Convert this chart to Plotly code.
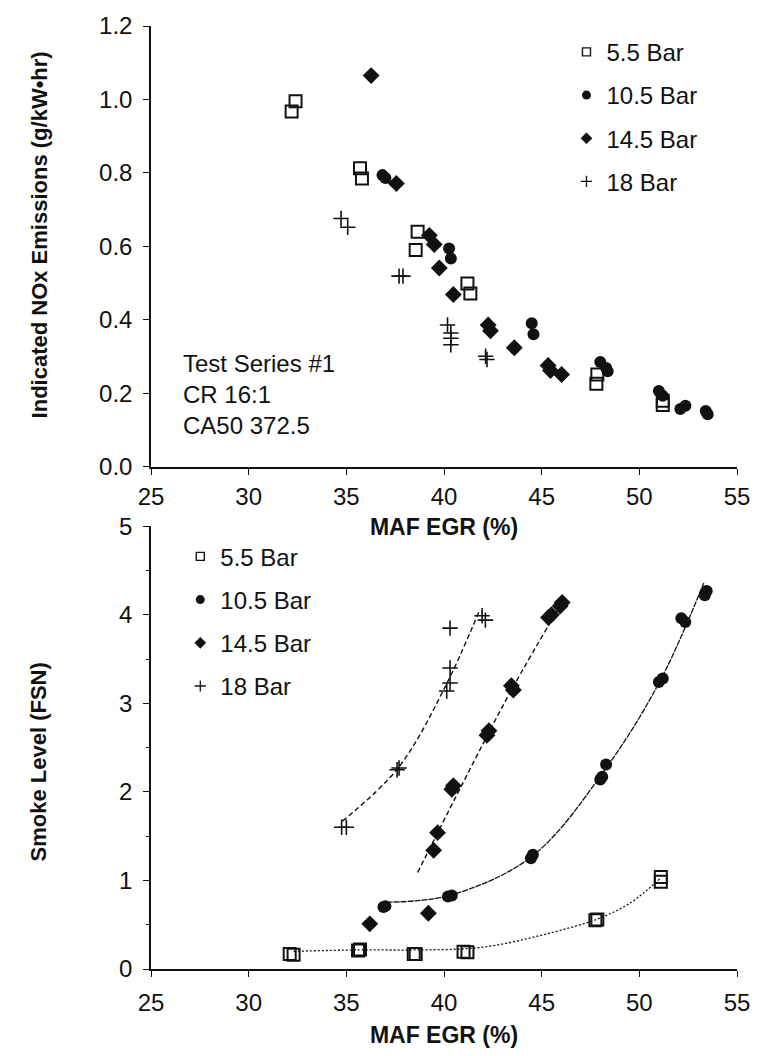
import plotly.graph_objects as go

# ---------------- data ----------------
X_TICKS = [25, 30, 35, 40, 45, 50, 55]
NOX_TICKS = [0.0, 0.2, 0.4, 0.6, 0.8, 1.0, 1.2]
SMOKE_TICKS = [0, 1, 2, 3, 4, 5]
SERIES = ["5.5 Bar", "10.5 Bar", "14.5 Bar", "18 Bar"]

# Top panel: indicated NOx (g/kW-hr) vs MAF EGR (%)
nox_egr_55 = [32.4, 32.2, 35.7, 35.8, 38.65, 38.55, 41.2, 41.35, 47.85, 47.8, 51.2, 51.2]
nox_55 = [0.995, 0.967, 0.813, 0.785, 0.640, 0.590, 0.499, 0.472, 0.251, 0.226, 0.180, 0.168]

nox_egr_105 = [36.85, 37.0, 40.26, 40.35, 44.49, 44.58, 48.0, 48.3, 48.38, 51.0, 51.2, 52.1, 52.36, 53.4, 53.5]
nox_105 = [0.794, 0.786, 0.594, 0.567, 0.391, 0.361, 0.285, 0.269, 0.260, 0.206, 0.193, 0.157, 0.166, 0.152, 0.143]

nox_egr_145 = [36.27, 37.56, 39.25, 39.5, 39.76, 40.48, 42.26, 42.38, 43.6, 45.33, 45.45, 46.02]
nox_145 = [1.065, 0.771, 0.630, 0.605, 0.541, 0.469, 0.386, 0.370, 0.324, 0.276, 0.262, 0.251]

nox_egr_18 = [34.73, 35.07, 37.7, 37.9, 40.18, 40.35, 40.35, 40.35, 42.13, 42.2]
nox_18 = [0.676, 0.652, 0.519, 0.519, 0.386, 0.364, 0.350, 0.332, 0.301, 0.292]

# Bottom panel: smoke level (FSN) vs MAF EGR (%)
smk_egr_55 = [32.1, 32.3, 35.6, 35.7, 38.45, 38.55, 41.0, 41.2, 47.75, 47.85, 51.1, 51.1]
smk_55 = [0.17, 0.16, 0.21, 0.22, 0.17, 0.17, 0.195, 0.19, 0.55, 0.56, 1.04, 0.985]

smk_egr_105 = [36.9, 37.0, 40.2, 40.4, 44.45, 44.55, 48.0, 48.1, 48.3, 51.0, 51.2, 52.15, 52.35, 53.35, 53.45]
smk_105 = [0.70, 0.71, 0.82, 0.83, 1.25, 1.29, 2.14, 2.17, 2.31, 3.24, 3.28, 3.96, 3.92, 4.22, 4.27]

smk_egr_145 = [36.2, 39.2, 39.47, 39.67, 40.4, 40.48, 42.2, 42.3, 43.45, 43.55, 45.35, 45.5, 45.95, 46.05]
smk_145 = [0.51, 0.63, 1.34, 1.54, 2.03, 2.07, 2.64, 2.69, 3.20, 3.15, 3.97, 4.00, 4.10, 4.14]

smk_egr_18 = [34.76, 35.0, 37.6, 37.7, 40.14, 40.31, 40.31, 40.31, 41.95, 42.12]
smk_18 = [1.60, 1.60, 2.25, 2.27, 3.14, 3.23, 3.40, 3.85, 3.99, 3.94]

# Trend lines in the bottom panel
trend_egr_55 = [32.3, 35.6, 38.5, 41.2, 42.7, 44.4, 46.0, 47.8, 49.5, 51.1]
trend_55 = [0.20, 0.215, 0.215, 0.23, 0.27, 0.35, 0.44, 0.56, 0.74, 1.03]

trend_egr_105 = [37.05, 40.26, 44.49, 48.3, 51.1, 53.3]
trend_105 = [0.755, 0.83, 1.27, 2.27, 3.27, 4.36]

trend_egr_145 = [38.65, 41.5, 43.5, 46.1]
trend_145 = [1.09, 2.33, 3.17, 4.16]

trend_egr_18 = [34.8, 37.65, 40.0, 41.8]
trend_18 = [1.67, 2.27, 3.16, 4.04]

# ---------------- styling ----------------
FONT = "Liberation Sans, Arial, Helvetica, sans-serif"
BLACK = "#111111"
TXT = 24

MARKERS = {
    "5.5 Bar": dict(symbol="square-open", size=12, color=BLACK, line=dict(width=2, color=BLACK)),
    "10.5 Bar": dict(symbol="circle", size=12, color=BLACK, line=dict(width=0)),
    "14.5 Bar": dict(symbol="diamond", size=13, color=BLACK, line=dict(width=0)),
    "18 Bar": dict(symbol="cross-thin", size=11, color=BLACK, line=dict(width=1.6, color=BLACK)),
}
LEG_MARKERS = {
    "5.5 Bar": dict(symbol="square-open", size=8, color=BLACK, line=dict(width=1.4, color=BLACK)),
    "10.5 Bar": dict(symbol="circle", size=9, color=BLACK, line=dict(width=0)),
    "14.5 Bar": dict(symbol="diamond", size=9, color=BLACK, line=dict(width=0)),
    "18 Bar": dict(symbol="cross-thin", size=8, color=BLACK, line=dict(width=1.3, color=BLACK)),
}

fig = go.Figure()

top_data = {
    "5.5 Bar": (nox_egr_55, nox_55),
    "10.5 Bar": (nox_egr_105, nox_105),
    "14.5 Bar": (nox_egr_145, nox_145),
    "18 Bar": (nox_egr_18, nox_18),
}
bot_data = {
    "5.5 Bar": (smk_egr_55, smk_55),
    "10.5 Bar": (smk_egr_105, smk_105),
    "14.5 Bar": (smk_egr_145, smk_145),
    "18 Bar": (smk_egr_18, smk_18),
}
trend_data = {
    "5.5 Bar": (trend_egr_55, trend_55, dict(width=1.3, dash="2px,2px")),
    "10.5 Bar": (trend_egr_105, trend_105, dict(width=1.3, dash="6px,1px")),
    "14.5 Bar": (trend_egr_145, trend_145, dict(width=1.4, dash="5px,3px")),
    "18 Bar": (trend_egr_18, trend_18, dict(width=1.4, dash="5px,3px")),
}

# trend lines (drawn first, under markers)
for name in SERIES:
    tx, ty, ls = trend_data[name]
    fig.add_trace(go.Scatter(x=tx, y=ty, mode="lines", xaxis="x2", yaxis="y2",
                             line=dict(color=BLACK, shape="spline", **ls),
                             showlegend=False, hoverinfo="skip"))

for name in SERIES:
    x, y = top_data[name]
    fig.add_trace(go.Scatter(x=x, y=y, mode="markers", name=name, xaxis="x", yaxis="y",
                             marker=MARKERS[name], showlegend=False))
    x, y = bot_data[name]
    fig.add_trace(go.Scatter(x=x, y=y, mode="markers", name=name, xaxis="x2", yaxis="y2",
                             marker=MARKERS[name], showlegend=False))

# legend entries (one legend per panel)
for i, name in enumerate(SERIES):
    fig.add_trace(go.Scatter(x=[None], y=[None], mode="markers", name=name, xaxis="x", yaxis="y",
                             marker=LEG_MARKERS[name], legend="legend", legendgroup="t%d" % i))
    fig.add_trace(go.Scatter(x=[None], y=[None], mode="markers", name=name, xaxis="x2", yaxis="y2",
                             marker=LEG_MARKERS[name], legend="legend2", legendgroup="b%d" % i))

axis_common = dict(
    showline=True, linecolor=BLACK, linewidth=1.5, mirror=False,
    ticks="outside", ticklen=6, tickwidth=1, tickcolor=BLACK,
    showgrid=False, zeroline=False,
    tickfont=dict(family=FONT, size=TXT, color=BLACK),
)

fig.update_layout(
    width=762, height=1056,
    margin=dict(l=151, r=20, t=19, b=87),
    paper_bgcolor="white", plot_bgcolor="white",
    font=dict(family=FONT, color=BLACK),
    xaxis=dict(domain=[0, 1], anchor="y", range=[25, 55], tickvals=X_TICKS,
               ticklabelstandoff=2,
               title=dict(text="<b>MAF EGR (%)</b>", font=dict(family=FONT, size=23, color=BLACK), standoff=10),
               **axis_common),
    yaxis=dict(domain=[0.5326, 1], anchor="x", range=[0, 1.2], tickvals=NOX_TICKS,
               tickformat=".1f", ticklabelstandoff=6, **axis_common),
    xaxis2=dict(domain=[0, 1], anchor="y2", range=[25, 55], tickvals=X_TICKS,
                ticklabelstandoff=5,
                title=dict(text="<b>MAF EGR (%)</b>", font=dict(family=FONT, size=23, color=BLACK), standoff=12),
                **axis_common),
    yaxis2=dict(domain=[0, 0.4695], anchor="x2", range=[0, 5], tickvals=SMOKE_TICKS,
                ticklabelstandoff=6,
                minor=dict(dtick=0.5, ticks="outside", ticklen=3, tickcolor=BLACK),
                **axis_common),
    legend=dict(x=0.709, y=0.996, xanchor="left", yanchor="top",
                font=dict(family=FONT, size=TXT, color=BLACK), bgcolor="rgba(0,0,0,0)",
                tracegroupgap=9, traceorder="grouped"),
    legend2=dict(x=0.05, y=0.461, xanchor="left", yanchor="top",
                 font=dict(family=FONT, size=TXT, color=BLACK), bgcolor="rgba(0,0,0,0)",
                 tracegroupgap=9, traceorder="grouped"),
    annotations=[
        dict(text="Test Series #1<br>CR 16:1<br>CA50 372.5", xref="paper", yref="paper",
             x=0.052, y=0.659, xanchor="left", yanchor="top", align="left", showarrow=False,
             font=dict(family=FONT, size=TXT, color=BLACK)),
        dict(text="<b>Indicated NOx Emissions (g/kW\u2022hr)</b>", xref="paper", yref="paper",
             x=(38 - 151) / 591, y=(969 - 229) / 950, xanchor="center", yanchor="middle",
             textangle=-90, showarrow=False, font=dict(family=FONT, size=22, color=BLACK)),
        dict(text="<b>Smoke Level (FSN)</b>", xref="paper", yref="paper",
             x=(38 - 151) / 591, y=(969 - 760) / 950, xanchor="center", yanchor="middle",
             textangle=-90, showarrow=False, font=dict(family=FONT, size=22, color=BLACK)),
    ],
)

fig.write_html("out.html")
